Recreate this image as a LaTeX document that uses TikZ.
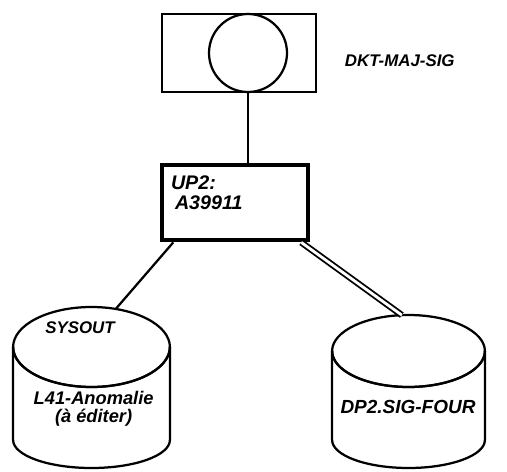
\documentclass[tikz,border=0pt]{standalone}
\usepackage{fontspec}
\setsansfont{Liberation Sans}
\usetikzlibrary{calc}
\usetikzlibrary{positioning}

\tikzset{
    hand/.style={font=\sffamily\bfseries\itshape\fontsize{#1}{#1}\selectfont},
    hand/.default=12,
    rim/.style={line width=1.6pt}
}

\begin{document}
\begin{tikzpicture}[rim]
                \useasboundingbox (0,0) rectangle (12.675,11.775);
                \node[draw, minimum width=3.85cm, minimum height=1.95cm] (frame) at (5.975,10.45) {};
                \node[draw, circle, minimum size=1.95cm, inner sep=0pt] (disk) at (6.2,10.45) {};
                \node[hand, anchor=west, right=0.55cm of frame.east, yshift=-0.2cm] (sig) {DKT-MAJ-SIG};
                \node[draw, line width=3.2pt, minimum width=3.65cm, minimum height=1.875cm,
                    text width=3.2cm, align=left, hand=14, inner sep=0.2cm] (job) at (5.875,6.71)
                    {UP2:\\\hspace*{0.1cm}A39911\\\mbox{}};
                \draw (disk.south) -- (disk.south |- job.north);
                \coordinate (leftc) at (2.2875,3.1);
                \coordinate (rightc) at (10.2125,3.0);
                \draw (leftc) ellipse [x radius=1.96, y radius=1.0];
                \draw[smooth, samples=60, domain=180:360]
                    plot ({2.2875+1.96*cos(\x)},{3.1+1.0*sin(\x)});
                \draw (0.3275,3.1) -- (0.3275,0.775) arc[start angle=180, end angle=360, x radius=1.96, y radius=0.7]
                    -- (4.2475,3.1);
                \draw (rightc) ellipse [x radius=1.91, y radius=0.9];
                \draw[smooth, samples=60, domain=180:360]
                    plot ({10.2125+1.91*cos(\x)},{3.0+0.9*sin(\x)});
                \draw (8.3025,3.0) -- (8.3025,0.775) arc[start angle=180, end angle=360, x radius=1.91, y radius=0.7]
                    -- (12.1225,3.0);
                \coordinate (sysin) at ($(leftc)+(72:1.96 and 1.0)$);
                \coordinate (fourin) at ($(rightc)+(95:1.91 and 0.9)$);
                \coordinate (jobl) at ($(job.south west)!0.09!(job.south east)$);
                \coordinate (jobr) at ($(job.south west)!0.94!(job.south east)$);
                \draw (jobl) -- (sysin);
                \draw[double, double distance=2pt, line width=1.3pt] (jobr) -- (fourin);
                \node[hand=12] (sysout) at (2.0,3.575) {SYSOUT};
                \node[hand=13, align=center] (anom) at (2.34,1.55) {L41-Anomalie\\(à éditer)};
                \node[hand=13.5] (four) at (10.2,1.6) {DP2.SIG-FOUR};
\end{tikzpicture}
\end{document}
